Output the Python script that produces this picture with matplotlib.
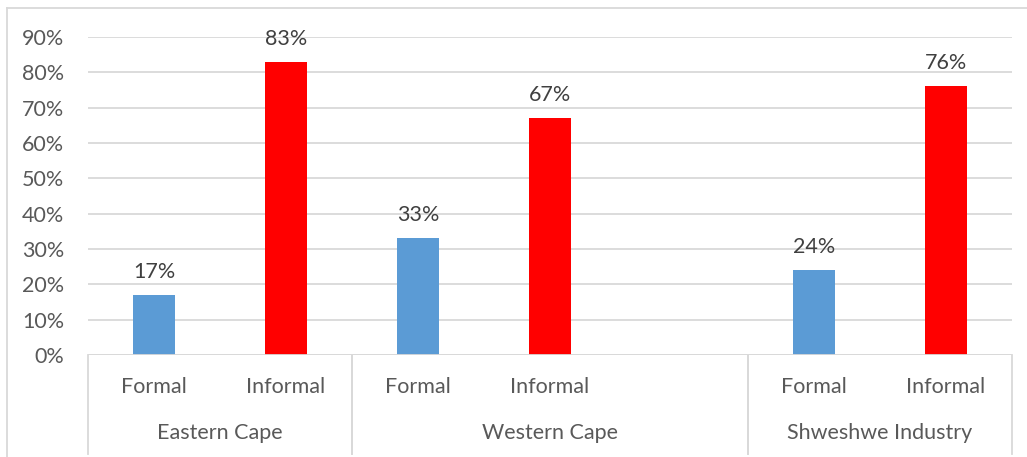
import matplotlib.pyplot as plt
import matplotlib.transforms as mtransforms
from matplotlib.lines import Line2D

# shares of employment by sector and region
groups = ["Eastern Cape", "Western Cape", "Shweshwe Industry"]
group_sizes = [2, 3, 2]          # Western Cape carries one empty slot
categories = ["Formal", "Informal", "Formal", "Informal", "", "Formal", "Informal"]
values = [17, 83, 33, 67, None, 24, 76]
yticks = [0, 10, 20, 30, 40, 50, 60, 70, 80, 90]

colours = {"Formal": "#5B9BD5", "Informal": "#FF0000"}
font = ["Lato", "DejaVu Sans"]
grey = "#D9D9D9"
fs = 15.5

fig = plt.figure(figsize=(10.27, 4.57), dpi=100)
ax = fig.add_axes([88 / 1027, 1 - 355 / 457, 924 / 1027, 318 / 457])

for i, (cat, v) in enumerate(zip(categories, values)):
    if v is None:
        continue
    ax.bar(i, v, width=0.32, color=colours[cat], zorder=3)
    ax.annotate(f"{v}%", (i, v), xytext=(0, 9.5), textcoords="offset points",
                ha="center", va="bottom", fontsize=fs, color="#404040",
                family=font)

ax.set_xlim(-0.5, len(categories) - 0.5)
ax.set_ylim(0, 90)
ax.set_yticks(yticks)
ax.set_yticklabels([f"{t}%" for t in yticks], fontsize=fs, color="#595959",
                   family=font)
ax.tick_params(axis="y", length=0, pad=17)
ax.set_xticks([])
ax.grid(axis="y", color=grey, linewidth=1.3, zorder=0)
for s in ax.spines.values():
    s.set_visible(False)
ax.axhline(0, color=grey, linewidth=1.3, zorder=4)

# two-level category axis below the bars
trans = mtransforms.blended_transform_factory(ax.transData, ax.transAxes)
for i, cat in enumerate(categories):
    ax.text(i, -0.1, cat, transform=trans, ha="center", va="center",
            fontsize=fs, color="#595959", family=font)

edge = -0.5
for g, n in zip(groups, group_sizes):
    ax.text(edge + n / 2, -0.245, g, transform=trans, ha="center",
            va="center", fontsize=fs, color="#595959", family=font)
    for x in (edge, edge + n):
        ax.add_line(Line2D([x, x], [0, -0.31], transform=trans, color=grey,
                           linewidth=1.3, clip_on=False))
    edge += n

# light frame round the whole chart
fig.add_artist(Line2D([7 / 1027, 7 / 1027], [0, 1 - 8 / 457],
                      transform=fig.transFigure, color=grey, linewidth=1.3))
fig.add_artist(Line2D([7 / 1027, 1], [1 - 8 / 457, 1 - 8 / 457],
                      transform=fig.transFigure, color=grey, linewidth=1.3))

fig.savefig("out.png", dpi=100, facecolor="white")
